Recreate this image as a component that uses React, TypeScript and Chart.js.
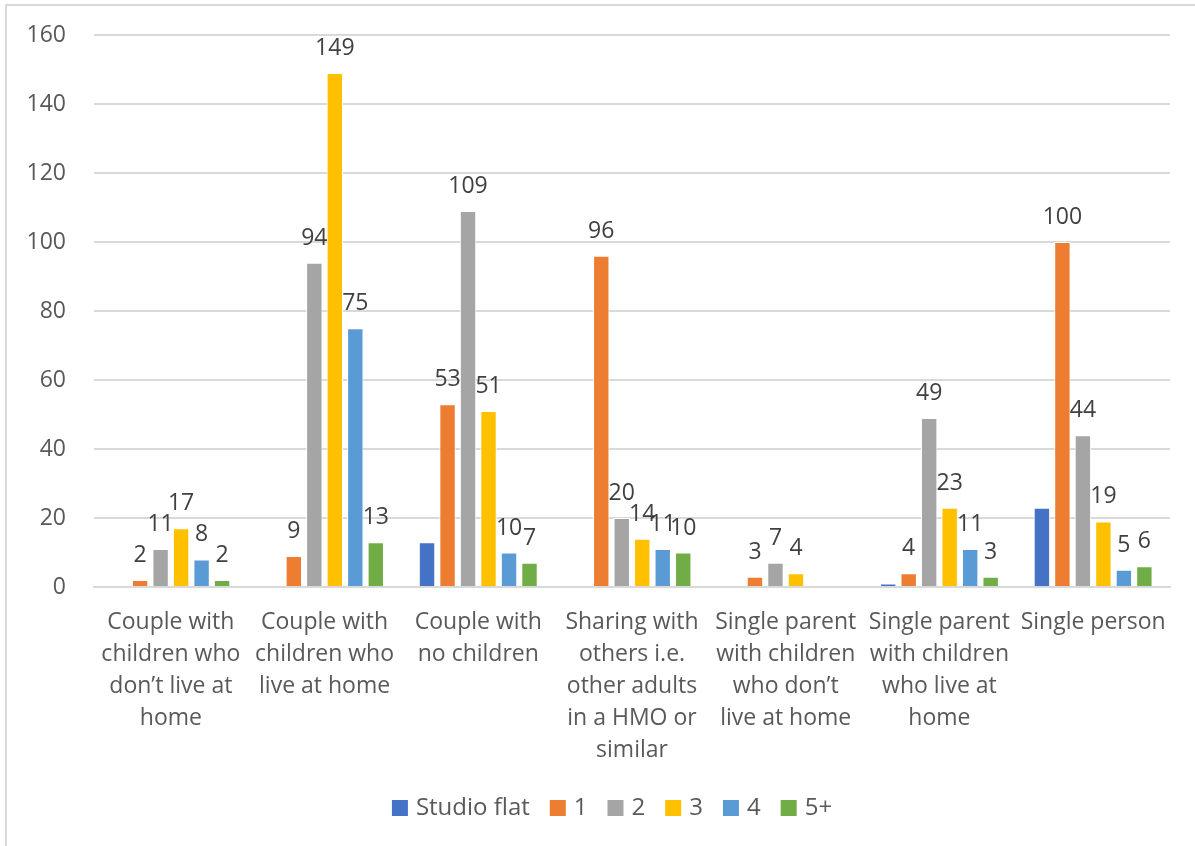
import React, { useEffect, useRef } from "react";
import { Chart, registerables } from "chart.js";

Chart.register(...registerables);

// Household types (x-axis categories), wrapped into display lines
const categories: string[][] = [
  ["Couple with", "children who", "don\u2019t live at", "home"],
  ["Couple with", "children who", "live at home"],
  ["Couple with", "no children"],
  ["Sharing with", "others i.e.", "other adults", "in a HMO or", "similar"],
  ["Single parent", "with children", "who don\u2019t", "live at home"],
  ["Single parent", "with children", "who live at", "home"],
  ["Single person"],
];

// Bedroom-size series
const seriesNames = ["Studio flat", "1", "2", "3", "4", "5+"];
const seriesColors = ["#4472C4", "#ED7D31", "#A5A5A5", "#FFC000", "#5B9BD5", "#70AD47"];

const studioFlat: (number | null)[] = [null, null, 13, null, null, 1, 23];
const oneBed: (number | null)[] = [2, 9, 53, 96, 3, 4, 100];
const twoBed: (number | null)[] = [11, 94, 109, 20, 7, 49, 44];
const threeBed: (number | null)[] = [17, 149, 51, 14, 4, 23, 19];
const fourBed: (number | null)[] = [8, 75, 10, 11, null, 11, 5];
const fivePlus: (number | null)[] = [2, 13, 7, 10, null, 3, 6];

// Which series carry value labels above their bars
const showValueLabels = [false, true, true, true, true, true];

const yTicks = { min: 0, max: 160, step: 20 };

const FONT = "'Open Sans', 'DejaVu Sans', sans-serif";

// Value labels above each bar
const valueLabelPlugin = {
  id: "valueLabels",
  afterDatasetsDraw(chart: any) {
    const ctx = chart.ctx;
    ctx.save();
    ctx.font = `23px ${FONT}`;
    ctx.fillStyle = "#404040";
    ctx.textAlign = "center";
    ctx.textBaseline = "bottom";
    chart.data.datasets.forEach((ds: any, i: number) => {
      if (!showValueLabels[i]) return;
      const meta = chart.getDatasetMeta(i);
      meta.data.forEach((el: any, j: number) => {
        const v = ds.data[j];
        if (v === null || v === undefined) return;
        ctx.fillText(String(v), el.x, el.y - 13);
      });
    });
    ctx.restore();
  },
};

// Single-row legend centred under the plot
const bottomLegendPlugin = {
  id: "bottomLegend",
  afterDraw(chart: any) {
    const ctx = chart.ctx;
    const box = 16;
    const textGap = 8;
    const itemGap = 20;
    ctx.save();
    ctx.font = `24px ${FONT}`;
    ctx.textBaseline = "middle";
    ctx.textAlign = "left";
    const items = chart.data.datasets.map((ds: any) => ({
      label: ds.label as string,
      color: ds.backgroundColor as string,
      w: ctx.measureText(ds.label).width,
    }));
    const total =
      items.reduce((s: number, it: any) => s + box + textGap + it.w, 0) +
      itemGap * (items.length - 1);
    const cx = (chart.chartArea.left + chart.chartArea.right) / 2 - 20;
    const cy = chart.chartArea.bottom + 221;
    let x = cx - total / 2;
    items.forEach((it: any) => {
      ctx.fillStyle = it.color;
      ctx.fillRect(x, cy - box / 2, box, box);
      ctx.fillStyle = "#595959";
      ctx.fillText(it.label, x + box + textGap, cy);
      x += box + textGap + it.w + itemGap;
    });
    ctx.restore();
  },
};

export default function App() {
  const canvasRef = useRef<HTMLCanvasElement | null>(null);

  useEffect(() => {
    if (!canvasRef.current) return;
    const seriesData = [studioFlat, oneBed, twoBed, threeBed, fourBed, fivePlus];
    const chart = new Chart(canvasRef.current, {
      type: "bar",
      data: {
        labels: categories,
        datasets: seriesNames.map((name, i) => ({
          label: name,
          data: seriesData[i],
          backgroundColor: seriesColors[i],
          borderColor: "#ffffff",
          borderWidth: 1,
          categoryPercentage: 0.8,
          barPercentage: 0.8,
        })),
      },
      options: {
        animation: false,
        responsive: false,
        maintainAspectRatio: false,
        layout: { padding: { left: 0, top: 29, right: 25, bottom: 64 } },
        plugins: {
          tooltip: { enabled: false },
          legend: { display: false },
        },
        scales: {
          x: {
            grid: { display: false, drawTicks: false },
            border: { color: "#d9d9d9", width: 2 },
            ticks: {
              color: "#595959",
              font: { family: FONT, size: 23, lineHeight: 1.4 },
              padding: 19,
              maxRotation: 0,
              autoSkip: false,
            },
            afterFit(scale: any) {
              scale.height = 195;
            },
          },
          y: {
            min: yTicks.min,
            max: yTicks.max,
            grid: {
              color: "#d9d9d9",
              lineWidth: 2,
              drawTicks: true,
              tickLength: 28,
              tickColor: "rgba(0,0,0,0)",
            },
            border: { display: false },
            ticks: {
              stepSize: yTicks.step,
              color: "#595959",
              font: { family: FONT, size: 23 },
              padding: 0,
            },
            afterFit(scale: any) {
              scale.width = 87;
            },
          },
        },
      },
      plugins: [valueLabelPlugin, bottomLegendPlugin],
    });
    return () => chart.destroy();
  }, []);

  return (
    <div
      style={{
        position: "absolute",
        left: 5,
        top: 4,
        width: 1200,
        height: 850,
        borderLeft: "2px solid #d9d9d9",
        borderTop: "2px solid #d9d9d9",
        background: "#ffffff",
        overflow: "hidden",
      }}
    >
      <canvas ref={canvasRef} width={1188} height={840} style={{ display: "block" }} />
    </div>
  );
}
